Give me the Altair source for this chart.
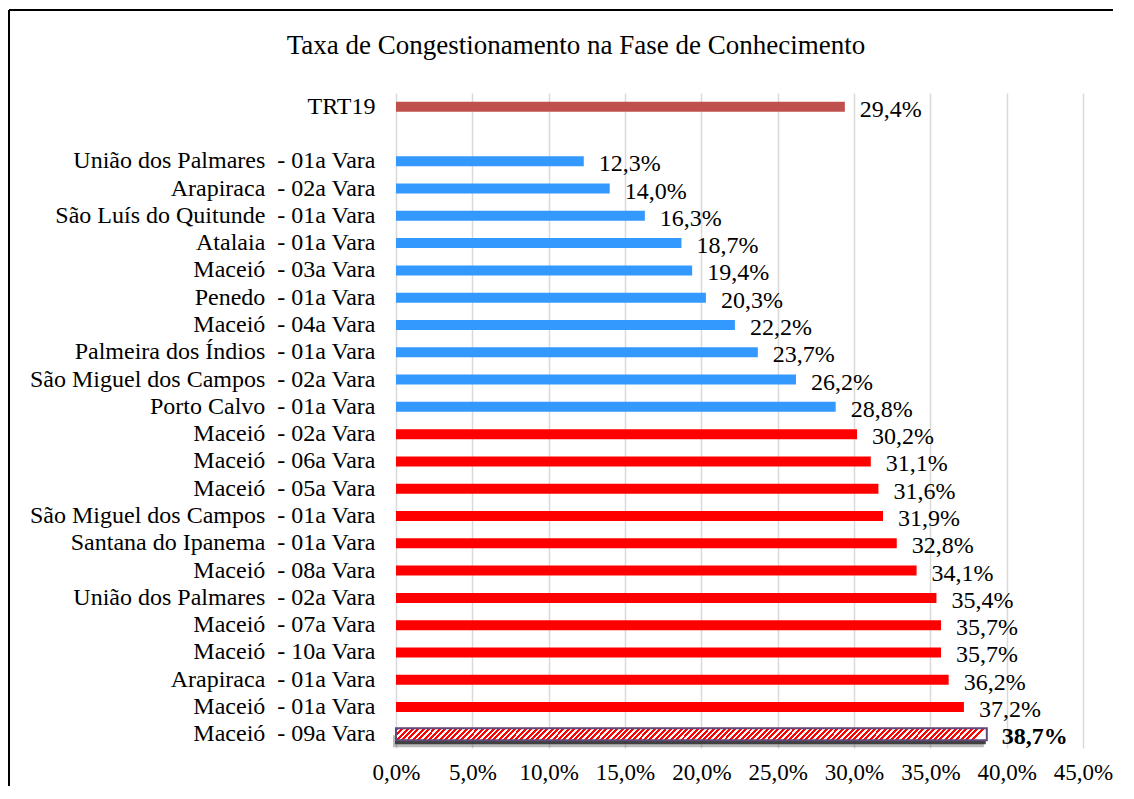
import altair as alt
import pandas as pd

# ---- data ----
NB = "\u00a0 "   # double space before the dash, as in the reference
categorias = [
    "TRT19",
    "União dos Palmares" + NB + "- 01a Vara",
    "Arapiraca" + NB + "- 02a Vara",
    "São Luís do Quitunde" + NB + "- 01a Vara",
    "Atalaia" + NB + "- 01a Vara",
    "Maceió" + NB + "- 03a Vara",
    "Penedo" + NB + "- 01a Vara",
    "Maceió" + NB + "- 04a Vara",
    "Palmeira dos Índios" + NB + "- 01a Vara",
    "São Miguel dos Campos" + NB + "- 02a Vara",
    "Porto Calvo" + NB + "- 01a Vara",
    "Maceió" + NB + "- 02a Vara",
    "Maceió" + NB + "- 06a Vara",
    "Maceió" + NB + "- 05a Vara",
    "São Miguel dos Campos" + NB + "- 01a Vara",
    "Santana do Ipanema" + NB + "- 01a Vara",
    "Maceió" + NB + "- 08a Vara",
    "União dos Palmares" + NB + "- 02a Vara",
    "Maceió" + NB + "- 07a Vara",
    "Maceió" + NB + "- 10a Vara",
    "Arapiraca" + NB + "- 01a Vara",
    "Maceió" + NB + "- 01a Vara",
    "Maceió" + NB + "- 09a Vara",
]
valores = [29.4, 12.3, 14.0, 16.3, 18.7, 19.4, 20.3, 22.2, 23.7, 26.2, 28.8,
           30.2, 31.1, 31.6, 31.9, 32.8, 34.1, 35.4, 35.7, 35.7, 36.2, 37.2, 38.7]
grupos = (["TRT"] + ["abaixo"] * 10 + ["acima"] * 11 + ["destaque"])
ordem_y = [categorias[0], " "] + categorias[1:]   # blank row after TRT19
x_ticks = [0, 5, 10, 15, 20, 25, 30, 35, 40, 45]
titulo = "Taxa de Congestionamento na Fase de Conhecimento"

grupo_dom = ["TRT", "abaixo", "acima"]
grupo_cores = ["#C0504D", "#3399FF", "#FF0000"]

df = pd.DataFrame({"categoria": categorias, "valor": valores, "grupo": grupos})

FONT = "Liberation Serif"
pct_expr = "replace(format(datum.valor, '.1f'), '.', ',') + '%'"

y_enc = alt.Y("categoria:N", sort=ordem_y,
              scale=alt.Scale(domain=ordem_y, paddingInner=0, paddingOuter=0),
              axis=alt.Axis(title=None, domain=False, ticks=False, grid=False,
                            labelFont=FONT, labelFontSize=24, labelColor="black",
                            labelPadding=21, labelLimit=500))
x_enc = alt.X("valor:Q",
              scale=alt.Scale(domain=[0, 45], nice=False, zero=True),
              axis=alt.Axis(title=None, values=x_ticks, domain=False, ticks=False,
                            grid=True, gridColor="#D9D9D9", gridWidth=1.5,
                            labelFont=FONT, labelFontSize=23, labelColor="black",
                            labelPadding=13, labelOverlap=False, labelFlush=False,
                            labelExpr="replace(format(datum.value, '.1f'), '.', ',') + '%'"))

base = alt.Chart(df)

bars = base.transform_filter("datum.grupo != 'destaque'").mark_bar(size=10).encode(
    x=x_enc, y=y_enc,
    color=alt.Color("grupo:N", scale=alt.Scale(domain=grupo_dom, range=grupo_cores),
                    legend=None),
)

# diagonal red/white stripes for the highlighted bar
n_stripes = 110
stops = []
for i in range(n_stripes):
    a = i / n_stripes
    m = (i + 0.55) / n_stripes
    b = (i + 1) / n_stripes
    stops += [alt.GradientStop(offset=a, color="#FF0000"),
              alt.GradientStop(offset=m, color="#FF0000"),
              alt.GradientStop(offset=m, color="#FFFFFF"),
              alt.GradientStop(offset=b, color="#FFFFFF")]
stripes = alt.LinearGradient(gradient="linear", stops=stops,
                             x1=0, y1=0, x2=1, y2=0.02)

destaque = base.transform_filter("datum.grupo == 'destaque'")

shadow1 = destaque.mark_bar(size=12, color="#202020", opacity=0.3, yOffset=7,
                            xOffset=-3).encode(x=x_enc, y=y_enc)
shadow2 = destaque.mark_bar(size=8, color="#2a2a2a", opacity=0.85, yOffset=6,
                            xOffset=-1).encode(x=x_enc, y=y_enc)
hbar = destaque.mark_bar(size=12, fill=stripes, stroke="#604A7B",
                         strokeWidth=2).encode(x=x_enc, y=y_enc)

labels = base.transform_filter("datum.grupo != 'destaque'").transform_calculate(
    rotulo=pct_expr).mark_text(
    align="left", baseline="middle", dx=15, dy=3, font=FONT, fontSize=24,
    color="black").encode(x=x_enc, y=y_enc, text="rotulo:N")
hlabel = destaque.transform_calculate(rotulo=pct_expr).mark_text(
    align="left", baseline="middle", dx=15, dy=3, font=FONT, fontSize=24,
    fontWeight="bold", color="black").encode(x=x_enc, y=y_enc, text="rotulo:N")

one = pd.DataFrame({"k": [0]})
frame_top = alt.Chart(one).mark_rule(color="black", strokeWidth=2).encode(
    x=alt.value(-387), x2=alt.value(800), y=alt.value(-83))
frame_left = alt.Chart(one).mark_rule(color="black", strokeWidth=2).encode(
    x=alt.value(-387), y=alt.value(-83), y2=alt.value(800))
title_mark = alt.Chart(one).mark_text(
    font=FONT, fontSize=27, color="black", align="center", baseline="middle").encode(
    x=alt.value(180), y=alt.value(-47), text=alt.value(titulo))

chart = alt.layer(
    bars, shadow1, shadow2, hbar, labels, hlabel, frame_top, frame_left, title_mark
).properties(
    width=687,
    height=655,
    autosize=alt.AutoSizeParams(type="none"),
    padding={"left": 388, "top": 85, "right": 30, "bottom": 38},
).configure_view(stroke=None)

chart.save("out.html", embed_options={"renderer": "svg", "actions": False})
